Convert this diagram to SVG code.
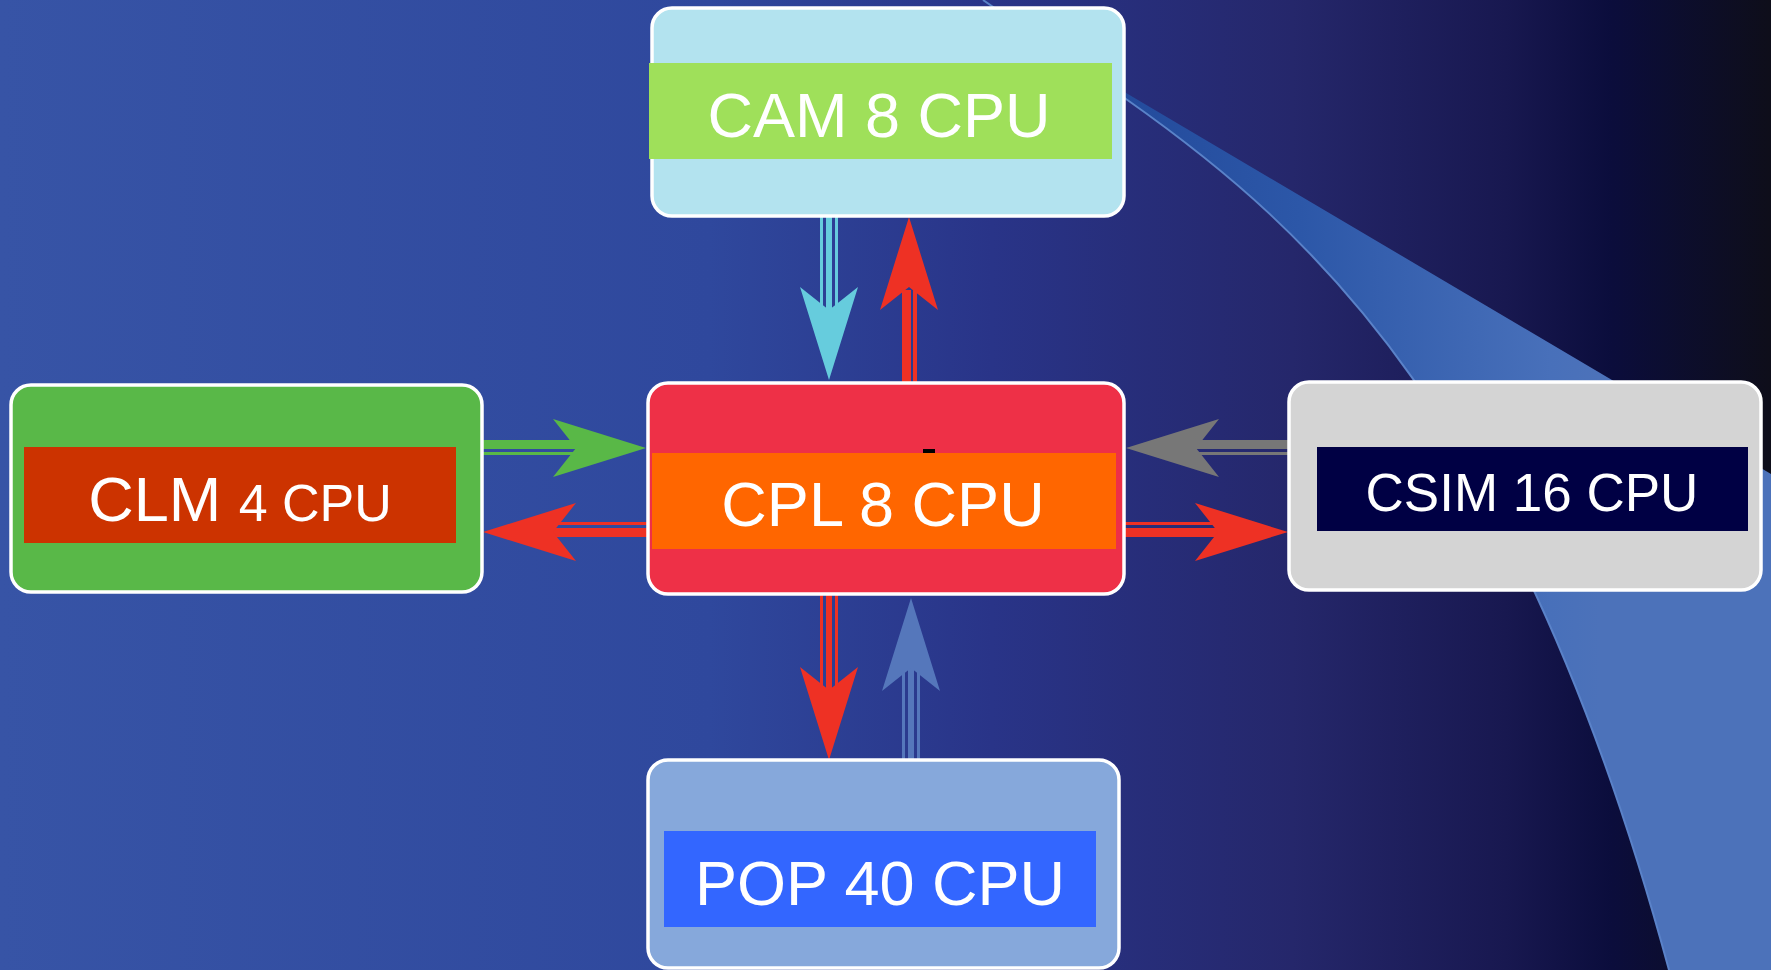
<svg xmlns="http://www.w3.org/2000/svg" width="1771" height="970" viewBox="0 0 1771 970">
<defs>
<linearGradient id="bg" x1="0" y1="0" x2="1771" y2="0" gradientUnits="userSpaceOnUse">
<stop offset="0" stop-color="#3754A6"/>
<stop offset="0.4" stop-color="#2F489D"/>
<stop offset="0.56" stop-color="#293488"/>
<stop offset="0.73" stop-color="#25276B"/>
<stop offset="0.85" stop-color="#181850"/>
<stop offset="0.91" stop-color="#0B0D3C"/>
<stop offset="1" stop-color="#0E0E1A"/>
</linearGradient>
<linearGradient id="swoosh" x1="1100" y1="0" x2="1600" y2="0" gradientUnits="userSpaceOnUse">
<stop offset="0" stop-color="#22499A"/>
<stop offset="0.4" stop-color="#2C57A8"/>
<stop offset="0.9" stop-color="#4870BA"/>
<stop offset="1" stop-color="#4C72BA"/>
</linearGradient>
<style>
.box{stroke:#FFFFFF;stroke-width:3.5}
.lbl{font-family:"Liberation Sans",Arial,sans-serif;fill:#FFFFFF;font-size:63px}
.lbl-s{font-size:53px}
.cyan{fill:#66CCDD}
.red{fill:#EE3124}
.green{fill:#59B847}
.gray{fill:#777777}
.blue{fill:#5577BB}
</style>
</defs>
<rect x="0" y="0" width="1771" height="970" fill="url(#bg)"/>
<g id="swoosh-bg">
<path d="M1050,48 L1771,474 L1771,970 L1669,970 C1520,420 1315,232 1126,99 Z" fill="url(#swoosh)"/>
<path d="M983,0 L1126,99 C1315,232 1520,420 1669,970" fill="none" stroke="#5A82C8" stroke-width="2"/>
</g>
<g id="connectors">
<g id="cam-to-cpl" class="cyan">
<rect x="820" y="217" width="3" height="95"/>
<rect x="826" y="217" width="6" height="95"/>
<rect x="835" y="217" width="3" height="95"/>
<polygon points="829,380 800,287 829,310 858,287"/>
</g>
<g id="cpl-to-cam" class="red">
<rect x="902" y="290" width="9" height="92"/>
<rect x="913" y="290" width="4" height="92"/>
<polygon points="909,217 880,310 909,287 938,310"/>
</g>
<g id="cpl-to-pop" class="red">
<rect x="820" y="595" width="3" height="97"/>
<rect x="826" y="595" width="6" height="97"/>
<rect x="835" y="595" width="3" height="97"/>
<polygon points="829,760 800,667 829,690 858,667"/>
</g>
<g id="pop-to-cpl" class="blue">
<rect x="902" y="665" width="3" height="95"/>
<rect x="908" y="665" width="6" height="95"/>
<rect x="917" y="665" width="3" height="95"/>
<polygon points="911,598 882,691 911,668 940,691"/>
</g>
<g id="clm-to-cpl" class="green">
<rect x="483" y="440" width="95" height="9"/>
<rect x="483" y="452" width="95" height="3"/>
<polygon points="646,448 553,419 576,448 553,477"/>
</g>
<g id="cpl-to-clm" class="red">
<rect x="550" y="522" width="98" height="3"/>
<rect x="550" y="528" width="98" height="9"/>
<polygon points="483,532 576,503 553,532 576,561"/>
</g>
<g id="csim-to-cpl" class="gray">
<rect x="1193" y="440" width="96" height="9"/>
<rect x="1193" y="452" width="96" height="3"/>
<polygon points="1126,448 1219,419 1196,448 1219,477"/>
</g>
<g id="cpl-to-csim" class="red">
<rect x="1125" y="522" width="96" height="3"/>
<rect x="1125" y="528" width="96" height="9"/>
<polygon points="1288,532 1195,503 1218,532 1195,561"/>
</g>
</g>
<g id="cam">
<rect class="box" x="652" y="8" width="472" height="208" rx="20" fill="#B3E3EF"/>
<rect x="649" y="63" width="463" height="96" fill="#9FE05A"/>
<text class="lbl" x="879" y="137" text-anchor="middle">CAM 8 CPU</text>
</g>
<g id="cpl">
<rect class="box" x="648" y="383" width="476" height="211" rx="20" fill="#EE3047"/>
<rect x="652" y="453" width="464" height="96" fill="#FF6600"/>
<rect x="923" y="449" width="12" height="4" fill="#000000"/>
<text class="lbl" x="883" y="526" text-anchor="middle">CPL 8 CPU</text>
</g>
<g id="clm">
<rect class="box" x="11" y="385" width="471" height="207" rx="20" fill="#59B848"/>
<rect x="24" y="447" width="432" height="96" fill="#CC3300"/>
<text class="lbl" x="240" y="521" text-anchor="middle">CLM <tspan class="lbl-s" style="font-size:52px">4 CPU</tspan></text>
</g>
<g id="csim">
<rect class="box" x="1289" y="382" width="472" height="208" rx="20" fill="#D4D4D4"/>
<rect x="1317" y="447" width="431" height="84" fill="#000044"/>
<text class="lbl lbl-s" x="1532" y="511" text-anchor="middle">CSIM 16 CPU</text>
</g>
<g id="pop">
<rect class="box" x="648" y="760" width="471" height="208" rx="20" fill="#86A8DB"/>
<rect x="664" y="831" width="432" height="96" fill="#3366FF"/>
<text class="lbl" x="880" y="905" text-anchor="middle">POP 40 CPU</text>
</g>
</svg>
